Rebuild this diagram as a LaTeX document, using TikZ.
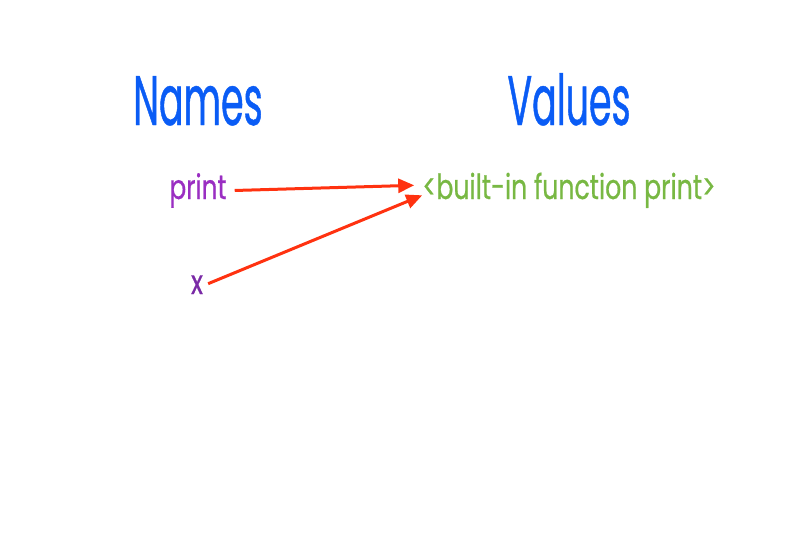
\documentclass[tikz,border=0pt]{standalone}
\usepackage{fontspec}
\setmainfont[FakeStretch=0.73, FakeBold=0.6]{Poppins}
\newfontfamily\headfont[FakeStretch=0.52, FakeBold=0.6]{Poppins}
\usepackage{xcolor}
\usetikzlibrary{arrows.meta, positioning}
\definecolor{hblue}{HTML}{0A5CF5}
\definecolor{npurple}{HTML}{9A2EC2}
\definecolor{xpurple}{HTML}{7A2AA6}
\definecolor{vgreen}{HTML}{78B843}
\definecolor{ared}{HTML}{FF3210}

\begin{document}
\begin{tikzpicture}[x=1pt, y=-1pt]
  \tikzset{
    hnode/.style={text=hblue, font=\headfont\fontsize{70}{72}\selectfont, inner sep=0pt, anchor=base},
    nnode/.style={font=\fontsize{34}{36}\selectfont, inner sep=0pt, anchor=base},
    vnode/.style={text=vgreen, font=\fontsize{34.5}{36}\selectfont, inner sep=0pt, anchor=base},
    arr/.style={-{Triangle[length=16pt, width=14pt]}, line width=3pt, draw=ared}
  }
  \useasboundingbox (0,0) rectangle (800,533);
  % Headings
  \node[hnode] (names)  at (198,125) {Names};
  \node[hnode] (values) at (569,125) {Values};
  % Names and value
  \node[nnode, text=npurple] (print) at (198,199) {print};
  \node[nnode, text=xpurple] (x)     at (197,294) {x};
  \node[vnode] (fn) at (569,199) {<built-in function print>};
  % Arrows
  \coordinate (t1) at ([xshift=-8pt, yshift=5pt]fn.west);
  \coordinate (t2) at ([xshift=0pt, yshift=-5pt]fn.west);
  \draw[arr] ([xshift=8pt]print.east) -- (t1);
  \draw[arr] ([xshift=5pt, yshift=1pt]x.east) -- (t2);
\end{tikzpicture}
\end{document}
